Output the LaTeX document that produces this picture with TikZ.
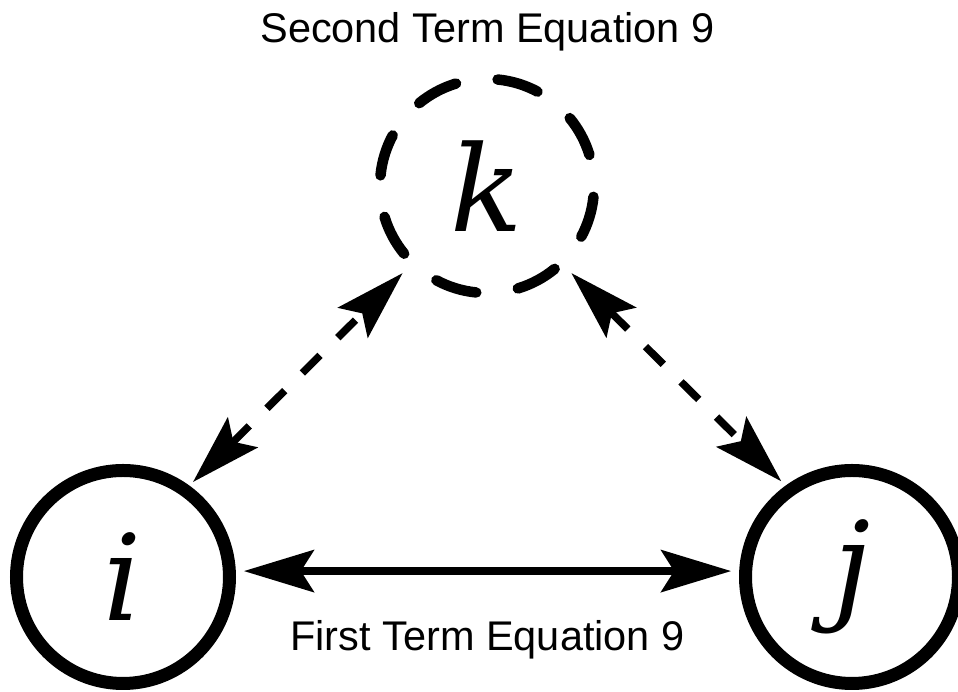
\documentclass[tikz,border=0pt]{standalone}
\usepackage{fontspec}
\setsansfont{Liberation Sans}
\newfontfamily\letterfont{DejaVu Serif}
\usepackage{tikz}
\usetikzlibrary{arrows.meta}

\begin{document}
\begin{tikzpicture}[>={Stealth[length=1.4cm, width=0.84cm, inset=0.26cm]},
  agent/.style={circle, draw, line width=0.26cm, minimum size=4.26cm, inner sep=0pt,
    font=\letterfont\itshape\fontsize{68}{80}\selectfont},
  link/.style={<->, line width=0.15cm},
  termlabel/.style={anchor=base, font=\sffamily\fontsize{23.6}{28}\selectfont}]
  \useasboundingbox (0,0) rectangle (19.16,13.84);
  % the three agents
  \node[agent] (i) at (2.46,2.30) {i};
  \node[agent] (j) at (17.04,2.30) {j};
  \node[agent, line width=0.21cm, minimum size=4.28cm, line cap=round,
    dash pattern=on 0.84cm off 0.84cm, dash phase=1.05cm] (k) at (9.74,10.12) {k};
  % first term: direct link
  \draw[link, shorten <=0.16cm, shorten >=0.16cm] (i.3) -- (j.177);
  % second term: links through k
  \draw[link, dash pattern=on 0.5cm off 0.5cm, shorten <=0.1cm, shorten >=0.18cm]
    (i.54) -- (k.226);
  \draw[link, dash pattern=on 0.5cm off 0.5cm, shorten <=0.18cm, shorten >=0.12cm]
    (k.314) -- (j.126);
  % labels
  \node[termlabel] (second) at (9.75,12.98) {Second Term Equation 9};
  \node[termlabel] (first) at (9.75,0.82) {First Term Equation 9};
\end{tikzpicture}
\end{document}
